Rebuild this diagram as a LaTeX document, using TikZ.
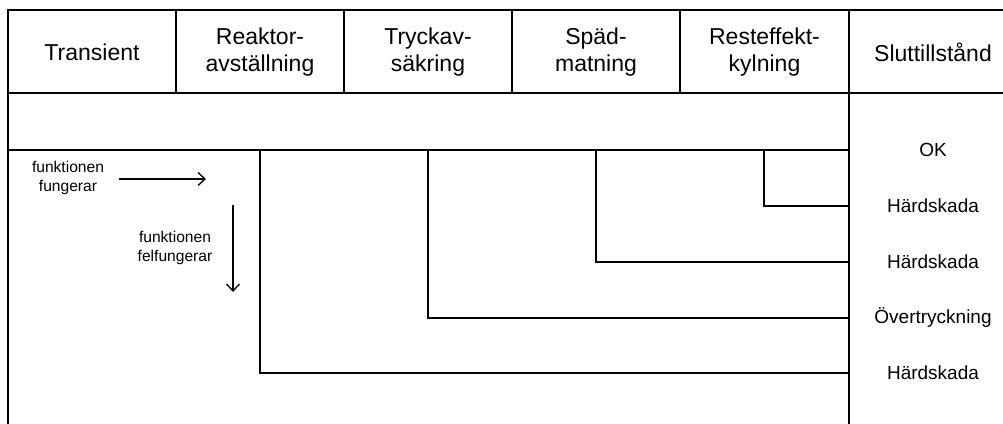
\documentclass[tikz,border=0pt]{standalone}
\usepackage{fontspec}
\setmainfont{Liberation Sans}
\usetikzlibrary{arrows.meta}
\tikzset{
  frame/.style={line width=2pt, line cap=rect},
  grid/.style={line width=1.3pt},
  branch/.style={line width=1.3pt},
  pointer/.style={line width=1.3pt, -{Straight Barb[length=7pt,width=13pt,line width=1.3pt]}},
  head/.style={inner sep=0pt, align=center, font=\fontsize{23}{27}\selectfont},
  outcome/.style={inner sep=0pt, font=\fontsize{19}{23}\selectfont},
  note/.style={inner sep=0pt, align=center, font=\fontsize{15.6}{19}\selectfont}
}
\begin{document}
\begin{tikzpicture}[x=1pt,y=-1pt]
\useasboundingbox (0,0) rectangle (1003,423);
\clip (0,0) rectangle (1003,423);
% frame
\draw[frame] (8,430) -- (8,10) -- (1010,10);
% header grid
\draw[grid] (8,93) -- (1010,93);
\draw[grid] (8,150) -- (849,150);
\foreach \x in {176,344,512,680} \draw[grid] (\x,10) -- (\x,93);
\coordinate (sepT) at (849,10);
\coordinate (sepB) at (849,430);
\draw[grid] (sepT) -- (sepB);
% header texts
\node[head] (h1) at (92,52) {Transient};
\node[head] (h2) at (260,52) {Reaktor-\\avställning};
\node[head] (h3) at (428,52) {Tryckav-\\säkring};
\node[head] (h4) at (596,52) {Späd-\\matning};
\node[head] (h5) at (764.5,52) {Resteffekt-\\kylning};
\node[head] (h6) at (933,52) {Sluttillstånd};
% outcomes
\node[outcome] (e1) at (933,150) {OK};
\node[outcome] (e2) at (933,206) {Härdskada};
\node[outcome] (e3) at (933,262) {Härdskada};
\node[outcome] (e4) at (933,318) {Övertryckning};
\node[outcome] (e5) at (933,373) {Härdskada};
% branch points
\coordinate (b2) at (260,150);
\coordinate (b3) at (428,150);
\coordinate (b4) at (596,150);
\coordinate (b5) at (764,150);
\draw[branch] (b5) |- (e2 -| sepT);
\draw[branch] (b4) |- (e3 -| sepT);
\draw[branch] (b3) |- (e4 -| sepT);
\draw[branch] (b2) |- (e5 -| sepT);
% legend
\node[note] (n1) at (68,177.5) {funktionen\\fungerar};
\coordinate (a1s) at (119,179);
\coordinate (a1e) at (206,179);
\draw[pointer] (a1s) -- (a1e);
\node[note] (n2) at (175,248) {funktionen\\felfungerar};
\coordinate (a2s) at (233,205);
\coordinate (a2e) at (233,292);
\draw[pointer] (a2s) -- (a2e);
\end{tikzpicture}
\end{document}
